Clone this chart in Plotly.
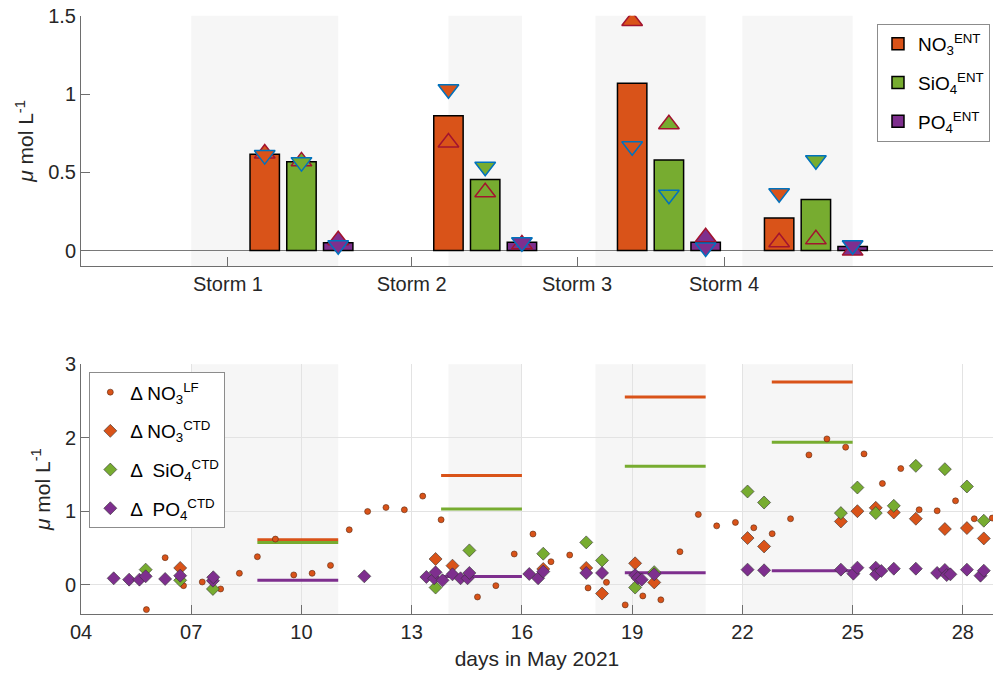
import plotly.graph_objects as go

# ---------------- data ----------------
storm_labels = ["Storm 1", "Storm 2", "Storm 3", "Storm 4"]
storm_label_days = [8, 13, 17.5, 21.5]
storm_windows_start = [7, 14, 18, 22]
storm_windows_end = [11, 16, 21, 25]

no3_bar_days = [9, 14, 19, 23]
sio4_bar_days = [10, 15, 20, 24]
po4_bar_days = [11, 16, 21, 25]

no3_ent = [0.616, 0.861, 1.068, 0.209]
sio4_ent = [0.567, 0.454, 0.579, 0.326]
po4_ent = [0.051, 0.053, 0.053, 0.026]

no3_up = [0.62, 0.69, 1.466, 0.053]
no3_dn = [0.61, 1.03, 0.667, 0.366]
sio4_up = [0.57, 0.373, 0.807, 0.072]
sio4_dn = [0.565, 0.536, 0.357, 0.577]
po4_up = [0.066, 0.04, 0.085, 0.0]
po4_dn = [0.034, 0.053, 0.02, 0.034]

line_start = [8.8, 13.8, 18.8, 22.8]
line_end = [11, 16, 21, 25]
no3_line = [0.61, 1.485, 2.554, 2.758]
sio4_line = [0.575, 1.028, 1.612, 1.939]
po4_line = [0.058, 0.109, 0.163, 0.19]

lf_days = [5.78, 6.29, 6.79, 7.30, 7.80, 8.31, 8.80, 9.29, 9.79, 10.29, 10.79, 11.30,
           11.80, 12.30, 12.80, 13.30, 13.80, 14.79, 15.29, 15.79, 16.30, 16.79, 17.30,
           17.80, 18.30, 18.81, 19.29, 19.78, 20.30, 20.80, 21.30, 21.81, 22.31, 22.81,
           23.31, 23.81, 24.30, 24.81, 25.31, 25.81, 26.31, 26.81, 27.30, 27.80, 28.31, 28.80]
no3_lf = [-0.34, 0.367, -0.014, 0.036, -0.059, 0.154, 0.38, 0.62, 0.132, 0.154, 0.262, 0.747,
          0.996, 1.05, 1.019, 1.205, 0.883, -0.168, -0.014, 0.417, 0.689, 0.312, 0.403,
          -0.045, 0.031, -0.276, -0.154, -0.207, 0.448, 0.955, 0.80, 0.847, 0.774, 0.693,
          0.897, 1.766, 1.984, 1.871, 1.78, 1.377, 1.58, 1.019, 1.005, 1.141, 0.897, 0.906]

ctd_days = [4.89, 5.31, 5.59, 5.76, 6.29, 6.70, 7.59, 7.60, 11.71, 13.40, 13.61, 13.65, 13.84,
            14.11, 14.33, 14.52, 14.57, 16.20, 16.44, 16.58, 17.75, 18.18, 19.08, 19.15, 19.26,
            19.60, 22.14, 22.59, 24.68, 25.02, 25.13, 25.63, 25.64, 25.78, 26.12, 26.72, 27.30,
            27.51, 27.56, 27.66, 28.11, 28.48, 28.57]
no3_ctd = [None, None, None, None, None, 0.227, None, None, None, None, None, 0.349, None,
           0.258, None, None, None, None, None, 0.213, 0.227, -0.122, 0.29, None, None,
           0.03, 0.634, 0.52, 0.86, None, 1.0, 1.046, None, None, 0.982, 0.897, None,
           0.757, None, None, 0.77, None, 0.629]
sio4_ctd = [None, None, None, 0.204, None, 0.058, -0.059, None, None, None, None, -0.04, None,
            None, None, None, 0.466, None, None, 0.421, 0.575, 0.33, -0.04, None, None,
            0.17, 1.268, 1.118, 0.974, None, 1.322, 0.974, None, None, 1.073, 1.617, None,
            1.572, None, None, 1.336, None, 0.87]
po4_ctd = [0.086, 0.068, 0.068, 0.113, 0.077, 0.122, 0.054, 0.10, 0.113, 0.104, 0.086, 0.167, 0.059,
           0.14, 0.086, 0.086, 0.159, 0.145, 0.086, 0.177, 0.159, 0.159, 0.13, 0.09, 0.068,
           0.14, 0.204, 0.195, 0.204, 0.149, 0.231, 0.231, 0.14, 0.186, 0.217, 0.217, 0.159,
           0.2, 0.13, 0.14, 0.204, 0.122, 0.19]

date_ticks = [4, 7, 10, 13, 16, 19, 22, 25, 28]
date_tick_labels = ["04", "07", "10", "13", "16", "19", "22", "25", "28"]

# ---------------- style ----------------
ORANGE = "#D95319"
GREEN = "#77AC30"
PURPLE = "#7E2F8E"
RED = "#A2142F"
BLUE = "#0072BD"
FONT = "Liberation Sans, Arial, Helvetica, sans-serif"
TXT = "#262626"
AXC = "#6e6e6e"
XR = [4, 28.82]

fig = go.Figure()

# ---------- top panel ----------
for i, (days, vals, col, name) in enumerate([
    (no3_bar_days, no3_ent, ORANGE, "NO<sub>3</sub><sup>ENT</sup>"),
    (sio4_bar_days, sio4_ent, GREEN, "SiO<sub>4</sub><sup>ENT</sup>"),
    (po4_bar_days, po4_ent, PURPLE, "PO<sub>4</sub><sup>ENT</sup>"),
]):
    fig.add_trace(go.Bar(x=days, y=vals, width=0.8, marker=dict(color=col, line=dict(color="black", width=1.5)),
                         name=name, xaxis="x2", yaxis="y2", legend="legend2", legendgroup=f"t{i}"))

for days, up, dn, col in [
    (no3_bar_days, no3_up, no3_dn, ORANGE),
    (sio4_bar_days, sio4_up, sio4_dn, GREEN),
    (po4_bar_days, po4_up, po4_dn, PURPLE),
]:
    fig.add_trace(go.Scatter(x=days, y=up, mode="markers", showlegend=False, xaxis="x2", yaxis="y2",
                             marker=dict(symbol="triangle-up", size=18, color=col, line=dict(color=RED, width=1.5))))
    fig.add_trace(go.Scatter(x=days, y=dn, mode="markers", showlegend=False, xaxis="x2", yaxis="y2",
                             marker=dict(symbol="triangle-down", size=18, color=col, line=dict(color=BLUE, width=1.5))))

# ---------- bottom panel ----------
def seg(vals):
    xs, ys = [], []
    for s, e, v in zip(line_start, line_end, vals):
        xs += [s, e, None]
        ys += [v, v, None]
    return xs, ys

for vals, col in [(no3_line, ORANGE), (sio4_line, GREEN), (po4_line, PURPLE)]:
    xs, ys = seg(vals)
    fig.add_trace(go.Scatter(x=xs, y=ys, mode="lines", line=dict(color=col, width=3),
                             showlegend=False, xaxis="x", yaxis="y"))

fig.add_trace(go.Scatter(x=lf_days, y=no3_lf, mode="markers", name="Δ NO<sub>3</sub><sup>LF</sup>",
                         marker=dict(symbol="circle", size=6, color=ORANGE, line=dict(color="#5a2a10", width=0.6)),
                         xaxis="x", yaxis="y", legend="legend", legendgroup="b0"))
for i, (vals, col, name) in enumerate([
    (no3_ctd, ORANGE, "Δ NO<sub>3</sub><sup>CTD</sup>"),
    (sio4_ctd, GREEN, "Δ  SiO<sub>4</sub><sup>CTD</sup>"),
    (po4_ctd, PURPLE, "Δ  PO<sub>4</sub><sup>CTD</sup>"),
]):
    fig.add_trace(go.Scatter(x=ctd_days, y=vals, mode="markers", name=name,
                             marker=dict(symbol="diamond", size=10, color=col, line=dict(color="#333333", width=0.6)),
                             xaxis="x", yaxis="y", legend="legend", legendgroup=f"b{i+1}"))

# shading
shapes = []
for s, e in zip(storm_windows_start, storm_windows_end):
    for xref, yref in [("x", "y domain"), ("x2", "y2 domain")]:
        shapes.append(dict(type="rect", xref=xref, yref=yref, x0=s, x1=e, y0=0, y1=1,
                           fillcolor="rgb(246,246,246)", line=dict(width=0), layer="below"))
fig.update_layout(shapes=shapes)

axis_common = dict(showline=True, linecolor=AXC, linewidth=1, ticks="inside", tickcolor=AXC,
                   tickfont=dict(family=FONT, size=20, color=TXT), mirror=False, automargin=False,
                   ticklabeloverflow="allow")

fig.update_layout(
    width=993, height=675,
    margin=dict(l=81, r=0, t=15, b=61, autoexpand=False),
    paper_bgcolor="white", plot_bgcolor="rgba(0,0,0,0)",
    font=dict(family=FONT, color=TXT),
    barmode="overlay",
    xaxis=dict(domain=[0, 1], range=XR, tickvals=date_ticks, ticktext=date_tick_labels,
               showgrid=True, gridcolor="#e3e3e3", zeroline=False, ticklen=9,
               title=dict(text="days in May 2021", font=dict(size=21, family=FONT, color=TXT), standoff=9),
               anchor="y", **axis_common),
    yaxis=dict(domain=[0, 0.4169], range=[-0.4, 3], tickvals=[0, 1, 2, 3],
               showgrid=True, gridcolor="#e3e3e3", zeroline=False, ticklen=9,
               title=dict(text="<i>μ</i> mol L<sup>-1</sup>", font=dict(size=21, family=FONT, color=TXT), standoff=8),
               anchor="x", **axis_common),
    xaxis2=dict(domain=[0, 1], range=XR, tickvals=storm_label_days, ticktext=storm_labels,
                showgrid=False, zeroline=False, ticklen=9, anchor="y2", **axis_common),
    yaxis2=dict(domain=[0.5805, 0.9988], range=[-0.1, 1.5], tickvals=[0, 0.5, 1, 1.5],
                ticktext=["0", "0.5", "1", "1.5"],
                showgrid=False, zeroline=True, zerolinecolor="#7a7a7a", zerolinewidth=1, ticklen=9,
                title=dict(text="<i>μ</i> mol L<sup>-1</sup>", font=dict(size=21, family=FONT, color=TXT), standoff=8),
                anchor="x2", **axis_common),
    legend=dict(x=0.0091, y=0.4035, xanchor="left", yanchor="top", bgcolor="white",
                bordercolor="#8c8c8c", borderwidth=1, font=dict(family=FONT, size=19, color="black"),
                tracegroupgap=11),
    legend2=dict(x=0.9967, y=0.985, xanchor="right", yanchor="top", bgcolor="white",
                 bordercolor="#8c8c8c", borderwidth=1, font=dict(family=FONT, size=19, color="black"),
                 tracegroupgap=11, itemwidth=30),
)

# remove the default 8px page margin so the figure sits at the window's top-left corner
fig.write_html("out.html", config={"displayModeBar": False},
               post_script="document.body.style.margin='0';")
